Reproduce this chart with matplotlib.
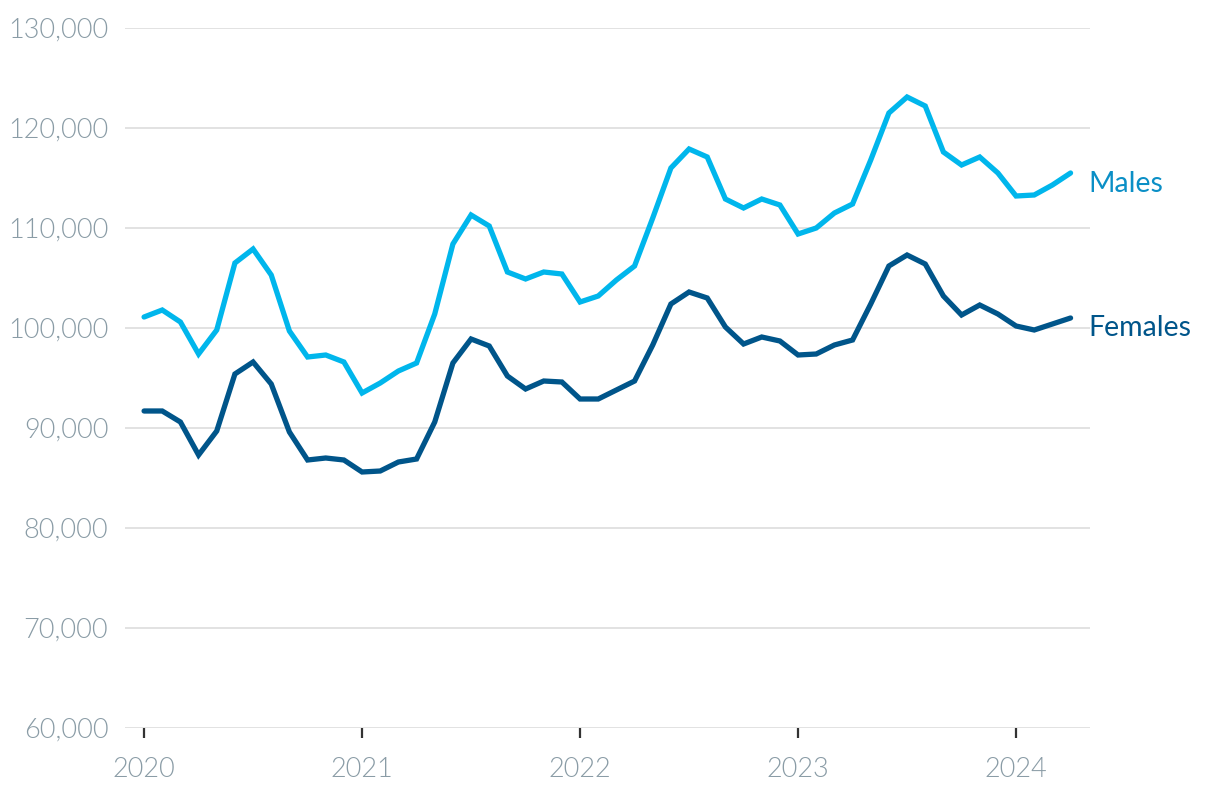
import matplotlib
matplotlib.use("Agg")
import matplotlib.pyplot as plt
import numpy as np

# monthly values, Jan 2020 - Apr 2024
males = [101100, 101800, 100600, 97400, 99800, 106500, 107900, 105300, 99700, 97100, 97300, 96600,
         93500, 94500, 95700, 96500, 101400, 108400, 111300, 110200, 105600, 104900, 105600, 105400,
         102600, 103200, 104800, 106200, 111000, 116000, 117900, 117100, 112900, 112000, 112900, 112300,
         109400, 110000, 111500, 112400, 116800, 121500, 123100, 122200, 117600, 116300, 117100, 115500,
         113200, 113300, 114300, 115500]
females = [91700, 91700, 90600, 87300, 89700, 95400, 96600, 94400, 89600, 86800, 87000, 86800,
           85600, 85700, 86600, 86900, 90600, 96500, 98900, 98200, 95200, 93900, 94700, 94600,
           92900, 92900, 93800, 94700, 98300, 102400, 103600, 103000, 100100, 98400, 99100, 98700,
           97300, 97400, 98300, 98800, 102400, 106200, 107300, 106400, 103200, 101300, 102300, 101400,
           100200, 99800, 100400, 101000]
years = ["2020", "2021", "2022", "2023", "2024"]
yticks = [60000, 70000, 80000, 90000, 100000, 110000, 120000, 130000]

males_col = "#00b6ec"
females_col = "#00558a"
tick_col = "#8a9ca6"

plt.rcParams["font.family"] = ["Lato", "DejaVu Sans"]

fig = plt.figure(figsize=(12.2, 7.94), dpi=100)
ax = fig.add_axes([125 / 1220, 1 - 728 / 794, 965 / 1220, 700 / 794])

x = np.arange(len(males))
ax.plot(x, males, color=males_col, lw=3.8, solid_joinstyle="miter", solid_capstyle="round", zorder=3)
ax.plot(x, females, color=females_col, lw=3.8, solid_joinstyle="miter", solid_capstyle="round", zorder=3)

# series labels at line ends
ax.annotate("Males", (x[-1], males[-1]), xytext=(18, -19), textcoords="offset pixels",
            color="#0b8fc6", fontsize=20.5, va="baseline", ha="left", annotation_clip=False)
ax.annotate("Females", (x[-1], females[-1]), xytext=(18, -18), textcoords="offset pixels",
            color=females_col, fontsize=20.5, va="baseline", ha="left", annotation_clip=False)

ax.set_xlim(-1.05, 52.07)
ax.set_ylim(60000, 130000)
ax.set_yticks(yticks)
ax.set_yticklabels([f"{v:,}" for v in yticks])
ax.set_xticks(np.arange(len(years)) * 12)
ax.set_xticklabels(years)

ax.grid(axis="y", color="#e2e2e2", lw=1.4, zorder=0)
for s in ax.spines.values():
    s.set_visible(False)

ax.tick_params(axis="y", length=0, pad=12, labelsize=19.5, labelcolor=tick_col)
ax.tick_params(axis="x", length=7, width=1.6, color="#333333", pad=14,
               labelsize=19.5, labelcolor=tick_col)
for lbl in ax.get_xticklabels() + ax.get_yticklabels():
    lbl.set_fontweight(300)

fig.savefig("out.png", dpi=100, facecolor="white")
